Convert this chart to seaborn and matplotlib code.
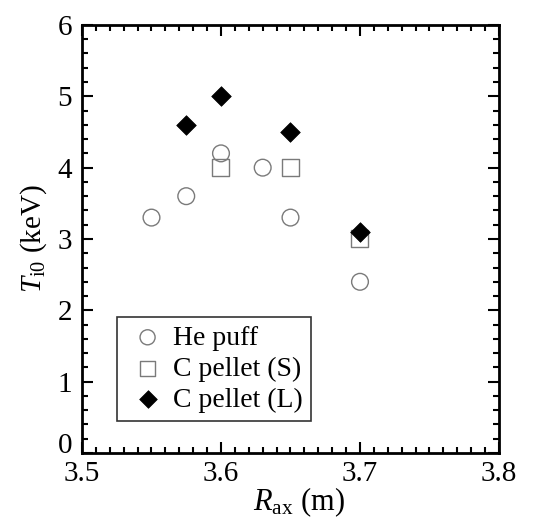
import matplotlib
matplotlib.use("Agg")
import matplotlib.pyplot as plt
import seaborn as sns
import pandas as pd
from matplotlib.ticker import MultipleLocator, FormatStrFormatter, FuncFormatter

sns.set_style("ticks", {"axes.edgecolor": "black", "text.color": "black",
                        "axes.labelcolor": "black", "xtick.color": "black",
                        "ytick.color": "black"})
plt.rcParams['font.family'] = ['Liberation Serif', 'DejaVu Serif']
plt.rcParams['mathtext.fontset'] = 'custom'
plt.rcParams['mathtext.rm'] = 'Liberation Serif'
plt.rcParams['mathtext.it'] = 'Liberation Serif:italic'

he_x = [3.55, 3.575, 3.6, 3.63, 3.65, 3.7]
he_y = [3.3, 3.6, 4.2, 4.0, 3.3, 2.4]
cs_x = [3.6, 3.65, 3.7]
cs_y = [4.0, 4.0, 3.0]
cl_x = [3.575, 3.6, 3.65, 3.7]
cl_y = [4.6, 5.0, 4.5, 3.1]
labels = ["He puff", "C pellet (S)", "C pellet (L)"]

fig = plt.figure(figsize=(5.38, 5.20), dpi=100)
ax = fig.add_axes([0.1524, 0.1288, 0.7751, 0.8232])

df_he = pd.DataFrame({"x": he_x, "y": he_y})
df_cs = pd.DataFrame({"x": cs_x, "y": cs_y})
df_cl = pd.DataFrame({"x": cl_x, "y": cl_y})

sns.scatterplot(data=df_he, x="x", y="y", ax=ax, marker="o", s=145,
                facecolor="none", edgecolor="#7a7a7a", linewidth=1.0, label=labels[0])
sns.scatterplot(data=df_cs, x="x", y="y", ax=ax, marker="s", s=150,
                facecolor="none", edgecolor="#7a7a7a", linewidth=1.0, label=labels[1])
sns.scatterplot(data=df_cl, x="x", y="y", ax=ax, marker="D", s=100,
                color="black", edgecolor="black", linewidth=0.5, label=labels[2])

ax.set_xlim(3.5, 3.8)
ax.set_ylim(0, 6)
ax.xaxis.set_major_locator(MultipleLocator(0.1))
ax.xaxis.set_minor_locator(MultipleLocator(0.01))
ax.xaxis.set_major_formatter(FormatStrFormatter("%.1f"))
ax.yaxis.set_major_locator(MultipleLocator(1))
ax.yaxis.set_minor_locator(MultipleLocator(0.2))
# the "0" label is drawn separately, slightly lifted as in the reference corner
ax.yaxis.set_major_formatter(FuncFormatter(lambda v, p: "" if abs(v) < 1e-9 else "%d" % round(v)))
ax.tick_params(which="both", direction="in", top=True, right=True, width=1.5,
               color="black", labelcolor="black")
ax.tick_params(which="major", length=8, labelsize=21)
ax.tick_params(axis="x", which="major", pad=6)
ax.tick_params(axis="y", which="major", pad=7)
ax.tick_params(which="minor", length=4)
for sp in ax.spines.values():
    sp.set_linewidth(2)
    sp.set_visible(True)
    sp.set_color("black")
ax.text(-0.022, 0.016, "0", transform=ax.transAxes, ha="right", va="center",
        fontsize=21, color="black")

ax.set_xlabel(r"$\it{R}_{\rm ax}$ (m)", fontsize=22, labelpad=0, color="black")
ax.xaxis.set_label_coords(0.52, -0.075)
ax.set_ylabel(r"$\it{T}_{\rm i0}$ (keV)", fontsize=21, labelpad=6, color="black")

leg = ax.legend(loc="lower left", bbox_to_anchor=(0.084, 0.075), borderaxespad=0,
                fontsize=20, frameon=True, fancybox=False, edgecolor="black",
                handletextpad=0.1, borderpad=0.3, labelspacing=0.2,
                handlelength=1.6, markerscale=0.9)
leg.get_frame().set_linewidth(1.2)
for t in leg.get_texts():
    t.set_color("black")

fig.savefig("out.png", dpi=100)
